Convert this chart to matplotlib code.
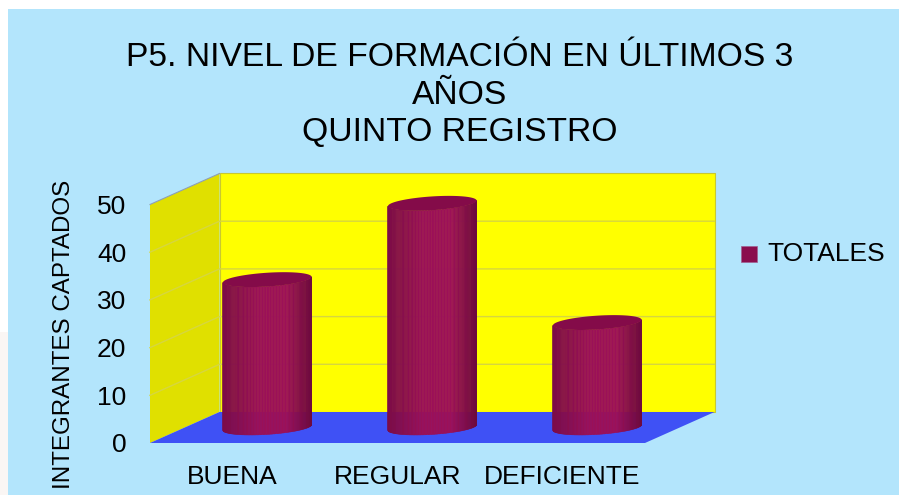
import numpy as np
import matplotlib
matplotlib.use("Agg")
import matplotlib.pyplot as plt
from matplotlib.patches import Polygon, Rectangle
from matplotlib.collections import PolyCollection
from matplotlib.colors import LinearSegmentedColormap

plt.rcParams['font.family'] = ['Liberation Sans', 'DejaVu Sans']

categories = ["BUENA", "REGULAR", "DEFICIENTE"]
values = [31, 47, 22]
y_ticks = [0, 10, 20, 30, 40, 50]
series_name = "TOTALES"
title = "P5. NIVEL DE FORMACIÓN EN ÚLTIMOS 3\nAÑOS\nQUINTO REGISTRO"
y_label = "INTEGRANTES CAPTADOS"

W, H = 899, 495
fig = plt.figure(figsize=(W / 100, H / 100), dpi=100, facecolor="white")
fig.add_artist(Rectangle((0, 0), 8 / W, (H - 332) / H, transform=fig.transFigure,
                         facecolor="#faf6f4", edgecolor="none", zorder=-2))
fig.add_artist(Rectangle((8 / W, 0), 1 - 8 / W, 1 - 9 / H, transform=fig.transFigure,
                         facecolor="#b3e5fc", edgecolor="none", zorder=-2))

# axes = front plane of the 3-D box
L, R, T, B = 150, 645, 204.5, 443
ax = fig.add_axes([L / W, 1 - B / H, (R - L) / W, (B - T) / H])
ax.patch.set_visible(False)
ax.set_xlim(-0.5, 2.5)
ax.set_ylim(0, 50)
for s in ax.spines.values():
    s.set_visible(False)

dx = 69.5 / ((R - L) / 3)      # depth offset, category units
dy = 31 / ((B - T) / 50)       # depth offset, value units
x0, x1 = ax.get_xlim()
ymax = y_ticks[-1]

ax.add_patch(Polygon([(x0 + dx, dy), (x1 + dx, dy), (x1 + dx, ymax + dy), (x0 + dx, ymax + dy)],
                     facecolor="#ffff00", edgecolor="#c8c830", lw=0.8, clip_on=False, zorder=1))
ax.add_patch(Polygon([(x0, 0), (x0 + dx, dy), (x0 + dx, ymax + dy), (x0, ymax)],
                     facecolor="#e0e000", edgecolor="none", clip_on=False, zorder=1))
ax.add_patch(Polygon([(x0, 0), (x1, 0), (x1 + dx, dy), (x0 + dx, dy)],
                     facecolor="#3f51f5", edgecolor="none", clip_on=False, zorder=1.5))
ax.plot([x0, x0 + dx], [ymax, ymax + dy], color="#8c9fb8", lw=0.8, clip_on=False, zorder=2)
for v in y_ticks[1:-1]:
    ax.plot([x0, x0 + dx, x1 + dx], [v, v + dy, v + dy], color="#d6d640", lw=1.0,
            clip_on=False, zorder=2)

cmap = LinearSegmentedColormap.from_list("cyl", [
    (0.0, "#7c0c47"), (0.2, "#8a0e4e"), (0.4, "#9a1058"), (0.72, "#9c1058"),
    (0.85, "#860d4c"), (1.0, "#6e0a3e")])

k = 0.24
a = 41 / ((R - L) / 3)
t0 = np.arctan2(k * 69.5, 41)
tt = np.linspace(t0 + np.pi, t0 + 2 * np.pi, 90)


def ring(cx, cy, t):
    return (cx + a * np.cos(t) + k * dx * np.sin(t), cy + k * dy * np.sin(t))


half_w = np.hypot(a, k * dx)
for i, val in enumerate(values):
    cx, cy = i + dx / 2, dy / 2
    xb, yb = ring(cx, cy, tt)
    yt = yb + val
    quads, cols = [], []
    for j in range(len(tt) - 1):
        quads.append([(xb[j], yb[j]), (xb[j + 1], yb[j + 1]), (xb[j + 1], yt[j + 1]), (xb[j], yt[j])])
        cols.append(cmap((0.5 * (xb[j] + xb[j + 1]) - cx + half_w) / (2 * half_w)))
    ax.add_collection(PolyCollection(quads, facecolors=cols, edgecolors=cols, linewidths=0.4,
                                     clip_on=False, zorder=3))
    t = np.linspace(0, 2 * np.pi, 120)
    xt, ytop = ring(cx, cy + val, t)
    ax.add_patch(Polygon(np.c_[xt, ytop], facecolor="#840b49", edgecolor="none",
                         clip_on=False, zorder=4))

ax.set_xticks(range(len(categories)), categories)
ax.set_yticks(y_ticks)
ax.tick_params(axis="both", length=0, labelsize=19, colors="black")
ax.tick_params(axis="x", pad=16)
ax.tick_params(axis="y", pad=17)

fig.text(460 / W, 1 - 95 / H, title, ha="center", va="center", fontsize=24.2,
         linespacing=1.27, color="black")
fig.text(64 / W, 1 - 334 / H, y_label, rotation=90, ha="center", va="center", fontsize=17.4)

fig.add_artist(Rectangle((741 / W, 1 - 262 / H), 16 / W, 16 / H, transform=fig.transFigure,
                         facecolor="#8a0e4e", edgecolor="#a06090", lw=0.5))
fig.text(767 / W, 1 - 254 / H, series_name, ha="left", va="center", fontsize=19)

fig.savefig("out.png", dpi=100, facecolor=fig.get_facecolor())
